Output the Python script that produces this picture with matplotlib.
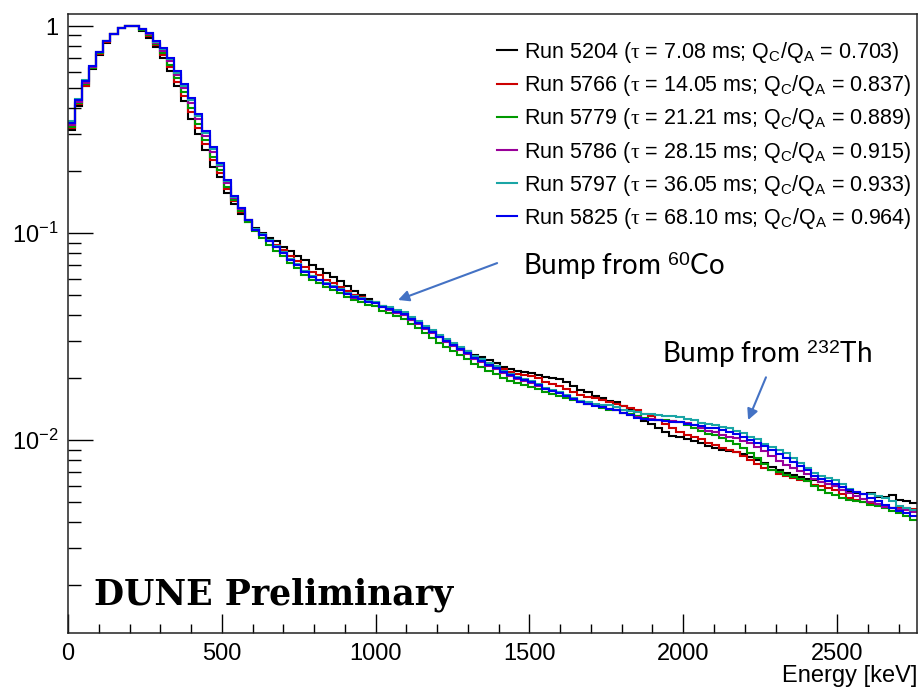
import numpy as np
import matplotlib
matplotlib.use("Agg")
import matplotlib.pyplot as plt
from matplotlib.ticker import MultipleLocator, LogLocator, NullFormatter

plt.rcParams['font.family'] = ['Liberation Sans', 'DejaVu Sans']
plt.rcParams['mathtext.fontset'] = 'custom'
plt.rcParams['mathtext.rm'] = 'Liberation Sans'
plt.rcParams['mathtext.it'] = 'Liberation Serif'
plt.rcParams['mathtext.bf'] = 'Liberation Sans:bold'

# ---- data: normalised energy spectra, 120 bins of 23 keV from 0 to 2760 keV ----
ENERGY_EDGES = np.linspace(0, 2760, 121)

RUN_5204 = [0.315, 0.411, 0.511, 0.619, 0.725, 0.831, 0.910, 0.975, 1.000, 0.995,
            0.946, 0.880, 0.791, 0.698, 0.606, 0.513, 0.435, 0.356, 0.302, 0.252,
            0.209, 0.187, 0.156, 0.138, 0.123, 0.113, 0.106, 0.100, 0.0951, 0.0919,
            0.0855, 0.0818, 0.0774, 0.0743, 0.0703, 0.0667, 0.0641, 0.0615, 0.0586, 0.0557,
            0.0524, 0.0502, 0.0482, 0.0467, 0.0445, 0.0433, 0.0412, 0.0409, 0.0382, 0.0369,
            0.0346, 0.0336, 0.0314, 0.0304, 0.0290, 0.0278, 0.0269, 0.0259, 0.0252, 0.0243,
            0.0235, 0.0225, 0.0220, 0.0216, 0.0213, 0.0210, 0.0206, 0.0202, 0.0199, 0.0198,
            0.0191, 0.0182, 0.0175, 0.0170, 0.0164, 0.0159, 0.0155, 0.0152, 0.0146, 0.0140,
            0.0131, 0.0124, 0.0119, 0.0114, 0.0109, 0.0105, 0.0103, 0.0101, 0.00988, 0.00973,
            0.00941, 0.00914, 0.00894, 0.00889, 0.00880, 0.00852, 0.00832, 0.00805, 0.00778, 0.00745,
            0.00720, 0.00696, 0.00677, 0.00663, 0.00652, 0.00638, 0.00630, 0.00613, 0.00597, 0.00576,
            0.00564, 0.00555, 0.00552, 0.00556, 0.00530, 0.00533, 0.00540, 0.00515, 0.00507, 0.00494]

RUN_5766 = [0.322, 0.421, 0.516, 0.626, 0.734, 0.841, 0.920, 0.975, 1.000, 0.995,
            0.956, 0.895, 0.809, 0.722, 0.634, 0.539, 0.459, 0.385, 0.323, 0.270,
            0.225, 0.195, 0.163, 0.143, 0.126, 0.115, 0.104, 0.0991, 0.0930, 0.0879,
            0.0827, 0.0773, 0.0732, 0.0687, 0.0650, 0.0624, 0.0593, 0.0575, 0.0548, 0.0527,
            0.0501, 0.0491, 0.0471, 0.0457, 0.0440, 0.0428, 0.0417, 0.0403, 0.0386, 0.0366,
            0.0350, 0.0331, 0.0318, 0.0301, 0.0289, 0.0275, 0.0265, 0.0252, 0.0244, 0.0235,
            0.0227, 0.0220, 0.0213, 0.0209, 0.0206, 0.0203, 0.0199, 0.0191, 0.0186, 0.0182,
            0.0177, 0.0171, 0.0166, 0.0162, 0.0159, 0.0156, 0.0153, 0.0150, 0.0146, 0.0143,
            0.0139, 0.0134, 0.0130, 0.0125, 0.0120, 0.0115, 0.0110, 0.0106, 0.0103, 0.0101,
            0.00972, 0.00946, 0.00915, 0.00900, 0.00880, 0.00841, 0.00804, 0.00770, 0.00736, 0.00713,
            0.00688, 0.00674, 0.00655, 0.00641, 0.00631, 0.00610, 0.00597, 0.00586, 0.00571, 0.00551,
            0.00528, 0.00513, 0.00505, 0.00494, 0.00485, 0.00477, 0.00472, 0.00472, 0.00469, 0.00467]

RUN_5779 = [0.325, 0.425, 0.522, 0.628, 0.742, 0.843, 0.920, 0.975, 1.000, 0.995,
            0.956, 0.905, 0.818, 0.738, 0.651, 0.558, 0.478, 0.401, 0.337, 0.281,
            0.234, 0.202, 0.167, 0.144, 0.128, 0.113, 0.102, 0.0948, 0.0880, 0.0822,
            0.0774, 0.0716, 0.0677, 0.0629, 0.0595, 0.0571, 0.0548, 0.0532, 0.0513, 0.0493,
            0.0474, 0.0464, 0.0451, 0.0442, 0.0421, 0.0411, 0.0397, 0.0384, 0.0363, 0.0346,
            0.0329, 0.0311, 0.0295, 0.0281, 0.0269, 0.0257, 0.0246, 0.0234, 0.0225, 0.0215,
            0.0208, 0.0199, 0.0193, 0.0189, 0.0184, 0.0180, 0.0176, 0.0170, 0.0167, 0.0164,
            0.0160, 0.0156, 0.0152, 0.0150, 0.0147, 0.0143, 0.0140, 0.0139, 0.0135, 0.0133,
            0.0130, 0.0128, 0.0126, 0.0125, 0.0125, 0.0124, 0.0122, 0.0118, 0.0114, 0.0111,
            0.0107, 0.0106, 0.0102, 0.00995, 0.00962, 0.00920, 0.00869, 0.00822, 0.00770, 0.00720,
            0.00704, 0.00681, 0.00662, 0.00648, 0.00631, 0.00603, 0.00577, 0.00555, 0.00540, 0.00527,
            0.00516, 0.00508, 0.00500, 0.00488, 0.00480, 0.00472, 0.00456, 0.00446, 0.00429, 0.00413]

RUN_5786 = [0.333, 0.430, 0.528, 0.633, 0.745, 0.850, 0.920, 0.975, 1.000, 0.995,
            0.967, 0.920, 0.832, 0.759, 0.677, 0.579, 0.502, 0.426, 0.357, 0.295,
            0.246, 0.210, 0.174, 0.148, 0.130, 0.115, 0.103, 0.0975, 0.0915, 0.0858,
            0.0797, 0.0742, 0.0698, 0.0653, 0.0612, 0.0592, 0.0565, 0.0552, 0.0528, 0.0512,
            0.0488, 0.0481, 0.0464, 0.0458, 0.0439, 0.0425, 0.0410, 0.0402, 0.0380, 0.0362,
            0.0344, 0.0329, 0.0313, 0.0298, 0.0285, 0.0272, 0.0260, 0.0247, 0.0238, 0.0227,
            0.0220, 0.0211, 0.0204, 0.0198, 0.0193, 0.0188, 0.0182, 0.0176, 0.0173, 0.0168,
            0.0163, 0.0158, 0.0154, 0.0150, 0.0147, 0.0144, 0.0142, 0.0139, 0.0135, 0.0132,
            0.0129, 0.0127, 0.0126, 0.0125, 0.0124, 0.0123, 0.0122, 0.0121, 0.0118, 0.0115,
            0.0111, 0.0109, 0.0106, 0.0104, 0.0102, 0.00994, 0.00972, 0.00929, 0.00889, 0.00842,
            0.00796, 0.00761, 0.00732, 0.00709, 0.00682, 0.00652, 0.00630, 0.00613, 0.00597, 0.00576,
            0.00558, 0.00536, 0.00517, 0.00505, 0.00490, 0.00477, 0.00472, 0.00466, 0.00459, 0.00447]

RUN_5797 = [0.347, 0.445, 0.546, 0.640, 0.750, 0.850, 0.920, 0.975, 1.000, 0.995,
            0.967, 0.928, 0.837, 0.771, 0.692, 0.596, 0.516, 0.440, 0.369, 0.305,
            0.254, 0.214, 0.178, 0.149, 0.132, 0.116, 0.105, 0.0985, 0.0925, 0.0865,
            0.0809, 0.0748, 0.0708, 0.0657, 0.0622, 0.0596, 0.0573, 0.0556, 0.0536, 0.0516,
            0.0495, 0.0485, 0.0471, 0.0462, 0.0445, 0.0439, 0.0424, 0.0415, 0.0392, 0.0374,
            0.0356, 0.0340, 0.0323, 0.0308, 0.0294, 0.0281, 0.0269, 0.0256, 0.0246, 0.0235,
            0.0227, 0.0215, 0.0208, 0.0202, 0.0197, 0.0192, 0.0187, 0.0178, 0.0174, 0.0170,
            0.0165, 0.0160, 0.0155, 0.0153, 0.0150, 0.0147, 0.0147, 0.0144, 0.0140, 0.0138,
            0.0136, 0.0134, 0.0133, 0.0132, 0.0131, 0.0130, 0.0129, 0.0126, 0.0125, 0.0121,
            0.0119, 0.0118, 0.0116, 0.0114, 0.0111, 0.0108, 0.0104, 0.0101, 0.00961, 0.00931,
            0.00899, 0.00870, 0.00818, 0.00774, 0.00737, 0.00697, 0.00674, 0.00656, 0.00638, 0.00616,
            0.00583, 0.00561, 0.00552, 0.00546, 0.00536, 0.00528, 0.00510, 0.00482, 0.00469, 0.00457]

RUN_5825 = [0.340, 0.440, 0.540, 0.640, 0.750, 0.850, 0.920, 0.975, 1.000, 0.995,
            0.967, 0.930, 0.846, 0.780, 0.700, 0.606, 0.525, 0.450, 0.377, 0.312,
            0.260, 0.218, 0.180, 0.151, 0.132, 0.116, 0.104, 0.098, 0.092, 0.086,
            0.0800, 0.0740, 0.0700, 0.0650, 0.0615, 0.0590, 0.0567, 0.0550, 0.0530, 0.0510,
            0.0490, 0.0480, 0.0466, 0.0457, 0.0440, 0.0430, 0.0415, 0.0406, 0.0384, 0.0366,
            0.0348, 0.0333, 0.0316, 0.0301, 0.0288, 0.0275, 0.0263, 0.0250, 0.0241, 0.0230,
            0.0222, 0.0213, 0.0206, 0.0200, 0.0195, 0.0190, 0.01845, 0.01763, 0.01725, 0.01679,
            0.01633, 0.01578, 0.01535, 0.0150, 0.01468, 0.01443, 0.01419, 0.0139, 0.0135, 0.0132,
            0.01285, 0.0127, 0.01256, 0.0125, 0.01236, 0.01228, 0.01216, 0.01195, 0.0118, 0.01175,
            0.01149, 0.01143, 0.01117, 0.01099, 0.01075, 0.0104, 0.01005, 0.00972, 0.0094, 0.0090,
            0.0086, 0.00823, 0.00783, 0.00749, 0.00713, 0.00674, 0.00652, 0.00634, 0.00617, 0.00596,
            0.00577, 0.00561, 0.00546, 0.00528, 0.00507, 0.00488, 0.00472, 0.00456, 0.00444, 0.00432]

RUN_LABELS = [
    r"Run 5204 ($\tau$ = 7.08 ms; Q$_{\mathrm{C}}$/Q$_{\mathrm{A}}$ = 0.703)",
    r"Run 5766 ($\tau$ = 14.05 ms; Q$_{\mathrm{C}}$/Q$_{\mathrm{A}}$ = 0.837)",
    r"Run 5779 ($\tau$ = 21.21 ms; Q$_{\mathrm{C}}$/Q$_{\mathrm{A}}$ = 0.889)",
    r"Run 5786 ($\tau$ = 28.15 ms; Q$_{\mathrm{C}}$/Q$_{\mathrm{A}}$ = 0.915)",
    r"Run 5797 ($\tau$ = 36.05 ms; Q$_{\mathrm{C}}$/Q$_{\mathrm{A}}$ = 0.933)",
    r"Run 5825 ($\tau$ = 68.10 ms; Q$_{\mathrm{C}}$/Q$_{\mathrm{A}}$ = 0.964)",
]
RUN_COLORS = ['#000000', '#cc0000', '#009900', '#990099', '#1aa5a5', '#0000ee']
X_TICKS = [0, 500, 1000, 1500, 2000, 2500]
Y_TICKS = [0.01, 0.1, 1]
Y_TICK_LABELS = [r'$\mathregular{10^{-2}}$', r'$\mathregular{10^{-1}}$', '1']

# ---- figure ----
fig = plt.figure(figsize=(9.18, 6.91), dpi=100)
ax = fig.add_axes([68 / 918, 58 / 691, 849 / 918, 619 / 691])

series = [RUN_5204, RUN_5766, RUN_5779, RUN_5786, RUN_5797, RUN_5825]
for vals, col, lab in zip(series, RUN_COLORS, RUN_LABELS):
    ax.stairs(vals, ENERGY_EDGES, color=col, lw=1.5, label=lab, baseline=None)

ax.set_yscale('log')
ax.set_xlim(0, 2760)
ax.set_ylim(0.00117, 1.143)

ax.set_xticks(X_TICKS)
ax.xaxis.set_minor_locator(MultipleLocator(100))
ax.set_yticks(Y_TICKS, labels=Y_TICK_LABELS)
ax.yaxis.set_minor_locator(LogLocator(base=10, subs=np.arange(2, 10)))
ax.yaxis.set_minor_formatter(NullFormatter())

ax.tick_params(axis='x', which='major', direction='in', length=13.4, width=1.0,
               labelsize=17, pad=7, top=False)
ax.tick_params(axis='x', which='minor', direction='in', length=6.7, width=1.0, top=False)
ax.tick_params(axis='y', which='major', direction='in', length=18, width=1.0,
               labelsize=17, pad=7, right=False)
ax.tick_params(axis='y', which='minor', direction='in', length=9, width=1.0, right=False)
for sp in ax.spines.values():
    sp.set_linewidth(1.1)
    sp.set_color('#222222')

leg = ax.legend(loc='upper left', bbox_to_anchor=(0.505, 0.958), frameon=False,
                fontsize=15.5, handlelength=0.95, handletextpad=0.3,
                labelspacing=0.38, borderpad=0, borderaxespad=0)
for line in leg.get_lines():
    line.set_linewidth(1.5)

fig.text(917 / 918, 9 / 691, 'Energy [keV]', ha='right', va='baseline', fontsize=17)

ax.text(84.5, 0.00161, 'DUNE Preliminary', fontfamily='DejaVu Serif',
        fontweight='bold', fontsize=25, va='baseline', ha='left')

ax.text(1479, 0.0627, r'Bump from $^{60}$Co', fontfamily='Lato', fontsize=20,
        va='baseline', ha='left')
ax.text(1931, 0.0236, r'Bump from $^{232}$Th', fontfamily='Lato', fontsize=20,
        va='baseline', ha='left')

arrow_kw = dict(arrowstyle='-|>', color='#4472c4', lw=1.5, mutation_scale=16,
                shrinkA=0, shrinkB=0)
ax.annotate('', xy=(1073, 0.0475), xytext=(1395, 0.0716), arrowprops=arrow_kw)
ax.annotate('', xy=(2211, 0.0125), xytext=(2269, 0.0201), arrowprops=arrow_kw)

fig.savefig('out.png', dpi=100)
